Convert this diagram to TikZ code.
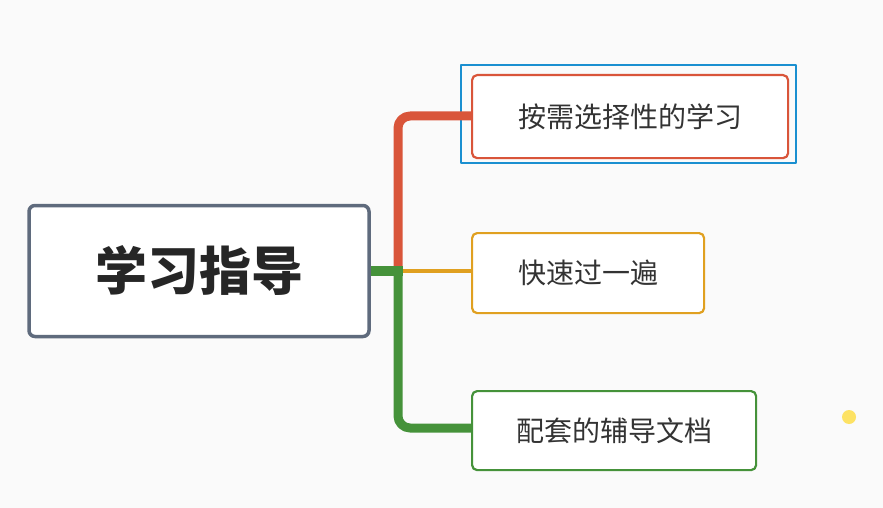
\documentclass[tikz,border=0pt]{standalone}
\usepackage{fontspec}
\newfontfamily\cjk{Noto Sans CJK SC}
\usetikzlibrary{positioning}
\definecolor{rootc}{HTML}{5F6B7D}
\definecolor{redc}{HTML}{D9553A}
\definecolor{orac}{HTML}{E0A020}
\definecolor{grnc}{HTML}{45923A}
\definecolor{selc}{HTML}{1A8FD0}
\begin{document}
\begin{tikzpicture}[x=1pt, y=-1pt, line cap=round, line join=round,
    leaf/.style={draw, line width=2.2pt, rounded corners=5pt, fill=white, font=\cjk\fontsize{28}{32}\selectfont, text=black!80, anchor=north west, inner sep=0pt}]
    
    \fill[black!2] (0,0) rectangle (883,508);
    \useasboundingbox (0,0) rectangle (883,508);

    \node[draw=rootc, line width=3.5pt, rounded corners=6pt, fill=white, minimum width=340, minimum height=131,
          font=\cjk\bfseries\fontsize{52}{58}\selectfont, text=black!85] (root) at (199,271) {学习指导};

    \node[leaf, draw=redc, minimum width=316, minimum height=83] (study) at (471,74) {按需选择性的学习};
    \node[leaf, draw=orac, minimum width=232, minimum height=80] (fast) at (471,232) {快速过一遍};
    \node[leaf, draw=grnc, minimum width=284, minimum height=79] (docs) at (471,390) {配套的辅导文档};

    % selection frame
    \draw[selc, line width=2pt] (461,65) rectangle (796,163);

    \coordinate (hub) at (398,271);
    \draw[redc, line width=9pt, line cap=butt, rounded corners=12pt] (hub) -- (398,116) -- (study.west |- 0,116);
    \draw[grnc, line width=9pt, line cap=butt, rounded corners=12pt] (hub) -- (398,428) -- (docs.west |- 0,428);
    \draw[orac, line width=4pt, line cap=butt] (hub) -- (fast.west |- hub);
    \draw[grnc, line width=10pt, line cap=butt] (root.east) -- ([xshift=4.5pt]hub);

    \fill[yellow!70!orange!60] (849,417) circle (7);
\end{tikzpicture}
\end{document}
